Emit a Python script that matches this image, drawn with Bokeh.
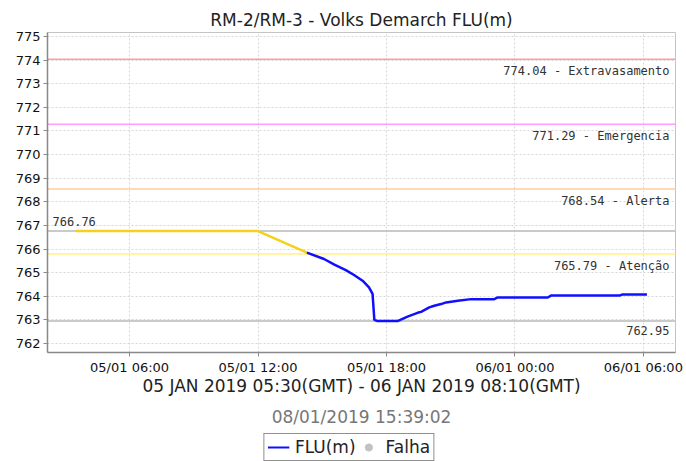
import pandas as pd
from bokeh.plotting import figure
from bokeh.layouts import column
from bokeh.models import (FixedTicker, DatetimeTickFormatter, Range1d, Title,
                          Legend, LegendItem, ColumnDataSource)
from bokeh.core.properties import value
from bokeh.embed import file_html
from bokeh.resources import INLINE

# ---------------- data ----------------
title_text = "RM-2/RM-3 - Volks Demarch FLU(m)"
x_label = "05 JAN 2019 05:30(GMT) - 06 JAN 2019 08:10(GMT)"
stamp_text = "08/01/2019 15:39:02"
legend_labels = ["FLU(m)", "Falha"]

fail_times = ["2019-01-05 03:30", "2019-01-05 12:00", "2019-01-05 14:17"]
fail_values = [766.76, 766.76, 765.85]

flu_times = ["2019-01-05 14:17", "2019-01-05 15:05", "2019-01-05 15:34", "2019-01-05 16:06",
             "2019-01-05 16:29", "2019-01-05 16:53", "2019-01-05 17:11", "2019-01-05 17:21",
             "2019-01-05 17:26", "2019-01-05 17:35", "2019-01-05 18:31", "2019-01-05 18:59",
             "2019-01-05 19:27", "2019-01-05 19:37", "2019-01-05 20:00", "2019-01-05 20:14",
             "2019-01-05 20:33", "2019-01-05 20:47", "2019-01-05 21:20", "2019-01-05 21:57",
             "2019-01-05 23:02", "2019-01-05 23:12", "2019-01-06 01:32", "2019-01-06 01:41",
             "2019-01-06 04:53", "2019-01-06 05:02", "2019-01-06 06:10"]
flu_values = [765.85, 765.58, 765.34, 765.11,
              764.90, 764.66, 764.38, 764.10,
              763.00, 762.95, 762.95, 763.14,
              763.30, 763.34, 763.53, 763.60,
              763.67, 763.74, 763.81, 763.88,
              763.88, 763.95, 763.95, 764.03,
              764.03, 764.08, 764.08]

level_values = [774.04, 771.29, 768.54, 765.79]
level_names = ["Extravasamento", "Emergencia", "Alerta", "Atenção"]
level_colors = ["#ff9c9c", "#ff9cff", "#ffcc99", "#fff08a"]

start_value = 766.76
min_value = 762.95

x_tick_times = ["2019-01-05 06:00", "2019-01-05 12:00", "2019-01-05 18:00",
                "2019-01-06 00:00", "2019-01-06 06:00"]
y_ticks = list(range(762, 776))

x_start = "2019-01-05 02:10"
x_end = "2019-01-06 07:30"
y_start, y_end = 761.62, 775.17

# ---------------- figure ----------------
def ts(s):
    return pd.Timestamp(s)

def ms(s):
    return pd.Timestamp(s).value // 10**6

FLU_COLOR = "#1010ff"
FALHA_COLOR = "#c2c2c2"

p = figure(frame_width=628, frame_height=320, x_axis_type="datetime", output_backend="svg",
           toolbar_location=None, title=title_text,
           x_range=Range1d(ms(x_start), ms(x_end)), y_range=Range1d(y_start, y_end),
           min_border_left=47, min_border_right=11, min_border_top=32, min_border_bottom=78)

p.title.align = "center"
p.title.text_font = "DejaVu Sans"
p.title.text_font_size = "17px"
p.title.text_font_style = "normal"
p.title.text_color = "#222222"
p.title.standoff = 6

p.background_fill_color = "white"
p.border_fill_color = "white"
p.outline_line_color = "#c4c4c4"
p.outline_line_width = 1

# grids
for g in (p.xgrid, p.ygrid):
    g.grid_line_color = "#d6d6d6"
    g.grid_line_dash = "2 2"
    g.grid_line_width = 1

# axes
p.xaxis.ticker = FixedTicker(ticks=[ms(t) for t in x_tick_times])
fmt = "%d/%m %H:%M"
p.xaxis.formatter = DatetimeTickFormatter(milliseconds=fmt, seconds=fmt, minsec=fmt, minutes=fmt,
                                          hourmin=fmt, hours=fmt, days=fmt, months=fmt, years=fmt)
p.yaxis.ticker = FixedTicker(ticks=y_ticks)
for ax in (p.xaxis, p.yaxis):
    ax.axis_line_color = "#888888"
    ax.axis_line_width = 1.5
    ax.major_tick_line_color = "#888888"
    ax.major_tick_out = 4
    ax.major_tick_in = 0
    ax.minor_tick_line_color = None
    ax.major_label_text_font = "DejaVu Sans"
    ax.major_label_text_font_size = "13px"
    ax.major_label_text_color = "#111111"
    ax.major_label_standoff = 3

p.xaxis.axis_label = x_label
p.xaxis.axis_label_text_font = "DejaVu Sans"
p.xaxis.axis_label_text_font_size = "17px"
p.xaxis.axis_label_text_font_style = "normal"
p.xaxis.axis_label_text_color = "#222222"
p.xaxis.axis_label_standoff = -2

# reference lines
xr = [ms(x_start), ms(x_end)]
for v, c in zip(level_values, level_colors):
    p.line(xr, [v, v], line_color=c, line_width=1.5)
p.line(xr, [start_value, start_value], line_color="#b8b8b8", line_width=1.5)
p.line(xr, [min_value, min_value], line_color="#b8b8b8", line_width=1.5)

# data
p.line([ts(t) for t in fail_times], fail_values, line_color="#f2d21c", line_width=2.5)
p.line([ts(t) for t in flu_times], flu_values, line_color=FLU_COLOR, line_width=2.5)

# labels
right_src = ColumnDataSource(dict(
    x=[ms(x_end)] * (len(level_values) + 1),
    y=level_values + [min_value],
    t=[f"{v:.2f} - {n}" for v, n in zip(level_values, level_names)] + [f"{min_value:.2f}"],
))
p.text(x="x", y="y", text="t", source=right_src, text_align="right", text_baseline="top",
       x_offset=-6, y_offset=5, text_font=value("DejaVu Sans Mono"), text_font_size="12px",
       text_color="#333333")
p.text(x=[ms(x_start)], y=[start_value], text=[f"{start_value:.2f}"], text_align="left",
       text_baseline="bottom", x_offset=5, y_offset=-5, text_font=value("DejaVu Sans Mono"),
       text_font_size="12px", text_color="#333333")

# timestamp
p.add_layout(Title(text=stamp_text, align="center", text_font="DejaVu Sans",
                   text_font_size="17px", text_font_style="normal", text_color="#777777",
                   standoff=13), "below")

# ---------------- legend strip ----------------
lg = figure(width=686, height=28, output_backend="svg", toolbar_location=None,
            x_axis_location=None, y_axis_location=None,
            x_range=Range1d(0, 1), y_range=Range1d(0, 1),
            min_border=0)
lg.min_border_right = 36
lg.outline_line_color = None
lg.grid.visible = False
lg.background_fill_color = "white"
lg.border_fill_color = "white"
nan = float("nan")
r_flu = lg.line([nan], [nan], line_color=FLU_COLOR, line_width=2)
r_falha = lg.scatter([nan], [nan], size=11, fill_color=FALHA_COLOR, line_color=FALHA_COLOR)

legend = Legend(items=[LegendItem(label=legend_labels[0], renderers=[r_flu]),
                       LegendItem(label=legend_labels[1], renderers=[r_falha])],
                orientation="horizontal", location="top_center",
                border_line_color="#222222", border_line_width=1,
                label_text_font="DejaVu Sans", label_text_font_size="17px",
                label_text_color="#222222", glyph_width=22, glyph_height=18,
                label_standoff=6, spacing=2, padding=3, margin=0,
                label_height=20, background_fill_alpha=1)
lg.add_layout(legend, "center")

layout = column(p, lg, spacing=0)
open("out.html", "w").write(file_html(layout, INLINE))
